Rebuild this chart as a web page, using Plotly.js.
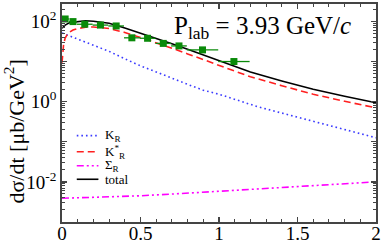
<!DOCTYPE html>
<html><head><meta charset="utf-8">
<script src="https://cdn.plot.ly/plotly-3.0.1.min.js"></script>
<style>html,body{margin:0;padding:0;background:#fff}#chart{width:382px;height:242px}</style>
</head><body><div id="chart"></div>
<script>
// data points (t, dsigma/dt)
const dataT = [0.02, 0.07, 0.145, 0.245, 0.345, 0.445, 0.545, 0.645, 0.745, 0.895, 1.095];
const dataY = [115, 99, 85, 81, 77, 39, 38, 28.3, 24.5, 19.5, 10];
const dataTErr = [0.025, 0.025, 0.05, 0.05, 0.05, 0.05, 0.05, 0.05, 0.05, 0.1, 0.1];
const dataYErr = [6, 5, 4, 4, 4, 2.5, 2.5, 2, 2, 1.5, 1];

// K_R (blue dotted)
const kT = [0, 0.1, 0.2, 0.3, 0.4, 0.5, 0.6, 0.7, 0.8, 0.9, 1.0, 1.25, 1.5, 1.75, 2.0];
const kY = [51.5, 36.6, 25.9, 17.9, 11.7, 7.8, 5.5, 3.8, 2.7, 1.93, 1.53, 0.74, 0.41, 0.226, 0.126];

// K*_R (red dashed)
const ksT = [0, 0.005, 0.01, 0.02, 0.04, 0.07, 0.1, 0.15, 0.2, 0.3, 0.4, 0.5, 0.6, 0.7, 0.8, 0.9, 1.0, 1.2, 1.4, 1.6, 1.8, 2.0];
const ksY = [9.3, 17.4, 26, 38.7, 51.5, 61.2, 66.7, 71.4, 72.6, 66.7, 53.1, 39.8, 29.9, 21.5, 15.5, 11.2, 8.3, 4.17, 2.5, 1.53, 1.02, 0.70];

// Sigma_R (magenta dash-dot-dot)
const sT = [0, 0.25, 0.5, 0.75, 1.0, 1.25, 1.5, 1.75, 2.0];
const sY = [0.0039, 0.0042, 0.0045, 0.0051, 0.0058, 0.0066, 0.0075, 0.0087, 0.0100];

// total (black solid)
const totT = [0, 0.02, 0.05, 0.1, 0.15, 0.2, 0.3, 0.4, 0.5, 0.6, 0.7, 0.8, 0.9, 1.0, 1.2, 1.4, 1.6, 1.8, 2.0];
const totY = [67.4, 81, 93.4, 100, 104, 101, 90, 68.6, 51.5, 38.7, 27.8, 20.3, 14.7, 10.7, 5.5, 3.28, 2.04, 1.37, 0.94];

const yTickVals = [0.001, 0.01, 0.1, 1, 10, 100];
const yTickText = ['', '10<sup>-2</sup>', '', '10<sup>0</sup>', '', '10<sup>2</sup>'];
const xTickVals = [0, 0.5, 1, 1.5, 2];
const xTickText = ['0', '0.5', '1', '1.5', '2'];
const legendNames = ['K<sub>R</sub>', 'K<sup>*</sup><sub>R</sub>', 'Σ<sub>R</sub>', 'total'];

const serif = 'Liberation Serif, Times New Roman, serif';
const axCol = '#444';
const styles = [
  {color: '#3a3aff', width: 1.6, dash: '1.6px,3px'},
  {color: '#ff2020', width: 1.6, dash: '7px,4px'},
  {color: '#ff00ff', width: 1.6, dash: '7px,3px,2px,3px,2px,3px'},
  {color: '#000000', width: 1.6, dash: 'solid'}
];
const series = [[kT, kY], [ksT, ksY], [sT, sY], [totT, totY]];

const traces = series.map((s, i) => ({x: s[0], y: s[1], mode: 'lines', name: legendNames[i], line: styles[i], showlegend: false}));
traces.push({x: dataT, y: dataY, mode: 'markers', showlegend: false,
   marker: {symbol: 'square', size: 7, color: '#0a8a0a'},
   error_x: {type: 'data', array: dataTErr, color: '#0a8a0a', thickness: 1.3, width: 0},
   error_y: {type: 'data', array: dataYErr, color: '#0a8a0a', thickness: 1.3, width: 0}});

// hand-placed legend (paper coordinates)
const legY = [0.396, 0.322, 0.258, 0.196];
const shapes = legendNames.map((n, i) => ({type: 'line', xref: 'paper', yref: 'paper',
  x0: 0.047, x1: 0.116, y0: legY[i], y1: legY[i], line: styles[i]}));
const annotations = legendNames.map((n, i) => ({xref: 'paper', yref: 'paper', x: 0.132, y: legY[i],
  xanchor: 'left', yanchor: 'middle', text: n, showarrow: false,
  font: {family: serif, size: 13, color: '#000'}}));
annotations.push({xref: 'paper', yref: 'paper', x: 0.926, y: 0.89, xanchor: 'right', yanchor: 'middle',
     text: 'P<sub>lab</sub> = 3.93 GeV/<i>c</i>', showarrow: false,
     font: {family: serif, size: 25, color: '#000'}});
annotations.push({xref: 'paper', yref: 'paper', x: -0.153, y: 0.415, xanchor: 'center', yanchor: 'middle',
     textangle: -90, text: 'dσ/dt [μb/GeV<sup>2</sup>]', showarrow: false,
     font: {family: serif, size: 22, color: '#000'}});

const layout = {
  width: 382, height: 242,
  margin: {l: 62, r: 6, t: 4, b: 20, pad: 0},
  paper_bgcolor: '#fff', plot_bgcolor: '#fff',
  font: {family: serif, color: '#000'},
  showlegend: false,
  xaxis: {range: [0, 2], tickmode: 'array', tickvals: xTickVals, ticktext: xTickText,
          ticks: 'inside', ticklen: 5, tickwidth: 1.3, tickcolor: axCol,
          showline: true, linecolor: axCol, linewidth: 1.8, mirror: 'ticks',
          showgrid: false, zeroline: false, ticklabelstandoff: -7,
          tickfont: {family: serif, size: 19},
          minor: {dtick: 0.1, tick0: 0, ticks: 'inside', ticklen: 3, tickwidth: 1, tickcolor: axCol, showgrid: false}},
  yaxis: {type: 'log', range: [-3, 2.434], tickmode: 'array', tickvals: yTickVals, ticktext: yTickText,
          ticks: 'inside', ticklen: 5, tickwidth: 1.3, tickcolor: axCol,
          showline: true, linecolor: axCol, linewidth: 1.8, mirror: 'ticks',
          showgrid: false, zeroline: false,
          tickfont: {family: serif, size: 19},
          minor: {dtick: 'D1', ticks: 'inside', ticklen: 3, tickwidth: 1, tickcolor: axCol, showgrid: false}},
  shapes: shapes,
  annotations: annotations
};

Plotly.newPlot('chart', traces, layout, {staticPlot: true, displayModeBar: false});
</script></body></html>
